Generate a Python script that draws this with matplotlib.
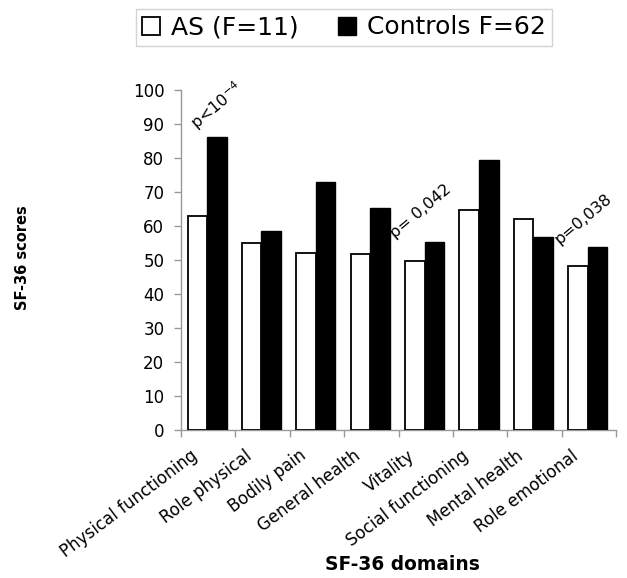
import matplotlib
matplotlib.use("Agg")
import matplotlib.pyplot as plt
import numpy as np

categories = ["Physical functioning", "Role physical", "Bodily pain", "General health",
              "Vitality", "Social functioning", "Mental health", "Role emotional"]
as_values = [63.0, 54.9, 52.1, 51.7, 49.8, 64.8, 62.1, 48.3]
control_values = [86.3, 58.5, 73.0, 65.4, 55.3, 79.4, 56.7, 53.9]
series_labels = ["AS (F=11)", "Controls F=62"]
yticks = [0, 10, 20, 30, 40, 50, 60, 70, 80, 90, 100]
annotations = [("p<10$^{-4}$", -0.15, 87.0), ("p= 0,042", 3.47, 55.5), ("p=0,038", 6.49, 53.8)]

plt.rcParams['font.family'] = ['DejaVu Sans']

fig = plt.figure(figsize=(6.27, 5.78), dpi=100)
ax = fig.add_axes([181/627, 1-430/578, (616-181)/627, 340/578])

x = np.arange(len(categories))
w = 0.36
ax.bar(x - 0.20, as_values, width=w, color='white', edgecolor='black', linewidth=1.3,
       label=series_labels[0], zorder=3)
ax.bar(x + 0.16, control_values, width=w, color='black', edgecolor='black', linewidth=1.0,
       label=series_labels[1], zorder=3)

ax.set_xlim(-0.5, len(categories) - 0.5)
ax.set_ylim(0, 100)
ax.set_yticks(yticks)
ax.tick_params(axis='y', length=5, width=1, color='#999999', pad=7, labelsize=12)

# category labels anchored left of each category centre
ax.set_xticks(x - 0.34)
ax.set_xticks(np.arange(len(categories) + 1) - 0.5, minor=True)
ax.tick_params(axis='x', which='major', length=0, pad=12, labelsize=12)
ax.tick_params(axis='x', which='minor', length=5, width=1, color='#999999')
ax.set_xticklabels(categories, rotation=37, ha='right', va='top', rotation_mode='anchor')

for s in ['top', 'right']:
    ax.spines[s].set_visible(False)
for s in ['left', 'bottom']:
    ax.spines[s].set_color('#999999')
    ax.spines[s].set_linewidth(1.0)

for txt, xx, yy in annotations:
    ax.text(xx, yy, txt, rotation=40, ha='left', va='bottom', rotation_mode='anchor',
            fontsize=11.5, clip_on=False, zorder=4)

fig.text(23/627, 1-258/578, "SF-36 scores", rotation=90, ha='center', va='center',
         fontsize=10.5, fontweight='bold')
fig.text(402/627, 1-565/578, "SF-36 domains", ha='center', va='center',
         fontsize=13.4, fontweight='bold')

leg = fig.legend(loc='center', bbox_to_anchor=(344/627, 1-27.5/578), ncol=2, fontsize=18,
                 frameon=True, fancybox=False, edgecolor='#c8c8c8', borderpad=0.25,
                 handlelength=0.7, handleheight=0.7, handletextpad=0.45, columnspacing=1.6)
leg.get_frame().set_linewidth(1.0)

fig.savefig("out.png", dpi=100)
